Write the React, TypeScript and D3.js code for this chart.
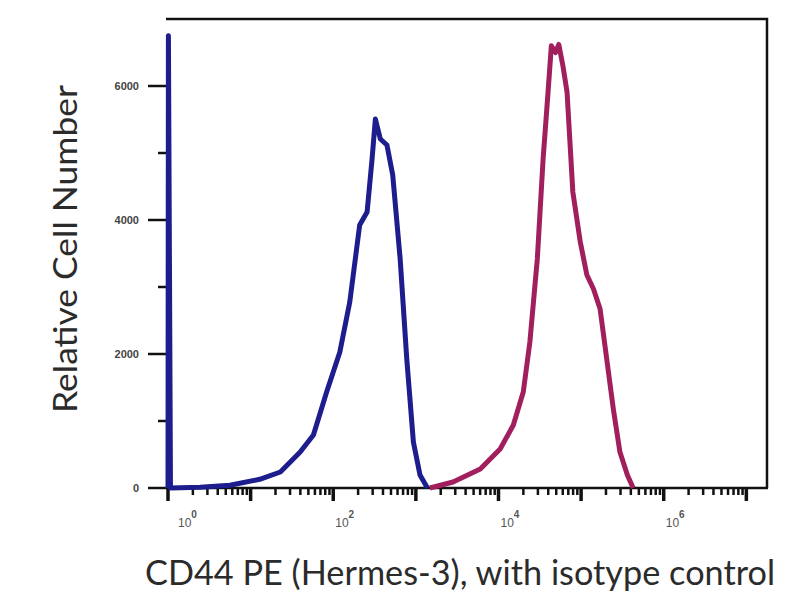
import React, { useEffect, useRef } from 'react';
import * as d3 from 'd3';

// fluorescence as log10 exponent, counts per bin
const isotypeLog = [0.0, 0.005, 0.03, 0.39, 0.75, 1.11, 1.36, 1.6, 1.76, 1.92, 2.08, 2.2, 2.32, 2.41, 2.47, 2.51, 2.57, 2.65, 2.72, 2.81, 2.89, 2.97, 3.05, 3.14];
const isotypeCount = [0, 6750, 0, 10, 40, 130, 239, 537, 791, 1433, 2030, 2776, 3925, 4119, 4910, 5507, 5209, 5119, 4672, 3418, 1925, 687, 194, 0];

const cd44Log = [3.17, 3.45, 3.78, 4.02, 4.18, 4.3, 4.38, 4.47, 4.54, 4.6, 4.64, 4.69, 4.73, 4.78, 4.83, 4.9, 4.99, 5.07, 5.15, 5.23, 5.31, 5.39, 5.47, 5.56, 5.63];
const cd44Count = [0, 90, 284, 582, 940, 1433, 2179, 3418, 4910, 5910, 6600, 6500, 6620, 6300, 5910, 4418, 3672, 3179, 2970, 2672, 1925, 1179, 537, 194, 0];

const yMajor = [0, 2000, 4000, 6000];
const yMinor = [1000, 3000, 5000];
const xDecades = [0, 1, 2, 3, 4, 5, 6, 7];
const xLabelDecades = [0, 2, 4, 6];

const App = () => {
  const svgRef = useRef(null);

  useEffect(() => {
    document.body.style.margin = '0';
    const svg = d3.select(svgRef.current);
    svg.selectAll('*').remove();

    const left = 168, right = 767, top = 19, bottom = 488;

    const x = d3.scaleLog().domain([1, Math.pow(10, 7.25)]).range([left, right]);
    const y = d3.scaleLinear().domain([0, 7000]).range([bottom, top]);

    const g = svg.append('g');

    // frame
    g.append('path')
      .attr('d', `M${left - 2},${top} H${right} V${bottom}`)
      .attr('fill', 'none')
      .attr('stroke', '#111')
      .attr('stroke-width', 2.5);
    g.append('line')
      .attr('x1', left).attr('x2', left).attr('y1', 40).attr('y2', bottom)
      .attr('stroke', '#111').attr('stroke-width', 2);
    g.append('line')
      .attr('x1', left - 2).attr('x2', right + 1).attr('y1', bottom).attr('y2', bottom)
      .attr('stroke', '#111').attr('stroke-width', 2.5);

    // x ticks
    const minor = [];
    xDecades.forEach((d) => {
      for (let m = 2; m <= 9; m++) {
        const v = m * Math.pow(10, d);
        if (v <= x.domain()[1]) minor.push(v);
      }
    });
    g.selectAll('.xminor').data(minor).enter().append('line')
      .attr('x1', (d) => x(d)).attr('x2', (d) => x(d))
      .attr('y1', bottom).attr('y2', bottom + 7)
      .attr('stroke', '#111').attr('stroke-width', 2.5);
    g.selectAll('.xmajor').data(xDecades).enter().append('line')
      .attr('x1', (d) => x(Math.pow(10, d))).attr('x2', (d) => x(Math.pow(10, d)))
      .attr('y1', bottom).attr('y2', bottom + 13)
      .attr('stroke', '#111').attr('stroke-width', 3.5);

    const xl = g.selectAll('.xlab').data(xLabelDecades).enter().append('text')
      .attr('x', (d) => x(Math.pow(10, d)) + (d === 0 ? 10 : 2))
      .attr('y', 527)
      .attr('font-family', 'Liberation Sans, Arial, sans-serif')
      .attr('font-size', 12)
      .attr('fill', '#555');
    xl.append('tspan').text('10');
    xl.append('tspan').attr('dy', -9).attr('font-size', 10).attr('font-weight', 'bold').text((d) => d);

    // y ticks
    g.selectAll('.ymajor').data(yMajor).enter().append('line')
      .attr('x1', left - 20).attr('x2', left)
      .attr('y1', (d) => y(d)).attr('y2', (d) => y(d))
      .attr('stroke', '#111').attr('stroke-width', 2.5);
    g.selectAll('.yminor').data(yMinor).enter().append('line')
      .attr('x1', left - 10).attr('x2', left)
      .attr('y1', (d) => y(d)).attr('y2', (d) => y(d))
      .attr('stroke', '#111').attr('stroke-width', 2.5);
    g.selectAll('.ylab').data(yMajor).enter().append('text')
      .attr('x', 139)
      .attr('y', (d) => y(d) + 4)
      .attr('text-anchor', 'end')
      .attr('font-family', 'Liberation Sans, Arial, sans-serif')
      .attr('font-weight', 'bold')
      .attr('font-size', 11)
      .attr('fill', '#444')
      .text((d) => d);

    // histograms
    const line = d3.line()
      .x((d) => x(Math.pow(10, d[0])))
      .y((d) => y(d[1]));

    g.append('path')
      .datum(isotypeLog.map((v, i) => [v, isotypeCount[i]]))
      .attr('fill', 'none')
      .attr('stroke', '#1d1d8e')
      .attr('stroke-width', 5)
      .attr('stroke-linejoin', 'round')
      .attr('d', line);

    g.append('path')
      .datum(cd44Log.map((v, i) => [v, cd44Count[i]]))
      .attr('fill', 'none')
      .attr('stroke', '#a11f5c')
      .attr('stroke-width', 5)
      .attr('stroke-linejoin', 'round')
      .attr('d', line);

    // axis titles
    g.append('text')
      .attr('x', 145)
      .attr('y', 585)
      .attr('font-family', 'Lato, Open Sans, sans-serif')
      .attr('font-size', 35)
      .attr('fill', '#2b2b2b')
      .attr('textLength', 630)
      .attr('lengthAdjust', 'spacingAndGlyphs')
      .text('CD44 PE (Hermes-3), with isotype control');

    g.append('text')
      .attr('transform', 'translate(77,413) rotate(-90)')
      .attr('font-family', 'Lato, Open Sans, sans-serif')
      .attr('font-size', 33)
      .attr('fill', '#2b2b2b')
      .attr('textLength', 328)
      .attr('lengthAdjust', 'spacingAndGlyphs')
      .text('Relative Cell Number');
  }, []);

  return <svg ref={svgRef} width={800} height={600} style={{ display: 'block', background: '#fff' }}></svg>;
};

export default App;
